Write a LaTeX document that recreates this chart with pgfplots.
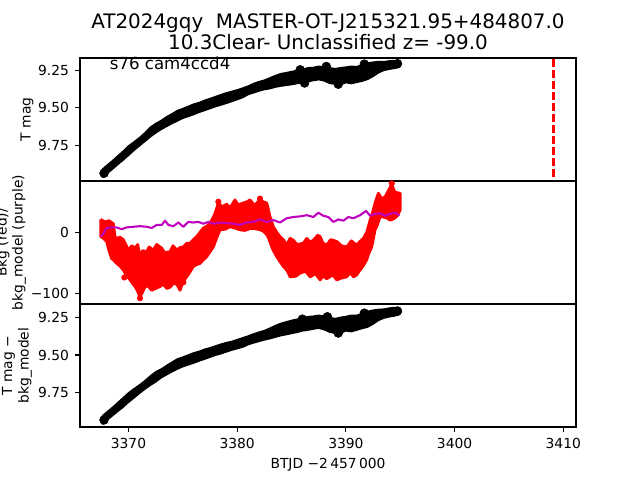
\documentclass[border=0pt]{standalone}
\usepackage{fontspec}
\setmainfont{DejaVu Sans}
\usepackage{pgfplots}
\pgfplotsset{compat=1.18}
\definecolor{mplm}{rgb}{0.75,0,0.75}
\pgfplotsset{
  panel/.style={
    scale only axis, width=357.1bp, height=88.56bp,
    xmin=3365.54, xmax=3411.17,
    axis line style={line width=0.8bp},
    tick style={line width=0.8bp, black},
    tick align=outside, major tick length=3.5bp,
    xtick pos=left, ytick pos=left,
    /pgf/number format/assume math mode=true,
    tick label style={font=\fontsize{10}{12}\selectfont},
    yticklabel style={xshift=-1bp},
    xticklabel style={yshift=-1bp},
    anchor=south west,
  }
}
\begin{document}
\begin{tikzpicture}
\useasboundingbox (0,0) rectangle (460.8bp,345.6bp);
% ---------------- top panel ----------------
\begin{axis}[panel, at={(57.6bp,215.28bp)},
  ymin=9.167, ymax=9.989, y dir=reverse,
  ytick={9.25,9.5,9.75}, yticklabels={9.25,9.50,9.75}, xtick=\empty]
\addplot[black, fill=black, line width=1bp, line join=round] coordinates {
(3367.6,9.910) (3368.0,9.885) (3368.5,9.855) (3369.0,9.822) (3369.5,9.790)
(3370.0,9.755) (3370.5,9.728) (3371.0,9.700) (3371.5,9.668) (3372.0,9.630)
(3372.5,9.605) (3373.0,9.585) (3373.5,9.560) (3374.0,9.540) (3374.5,9.518)
(3375.0,9.505) (3375.5,9.490) (3376.0,9.475) (3376.5,9.465) (3377.0,9.450)
(3377.5,9.438) (3378.0,9.425) (3378.5,9.412) (3379.0,9.400) (3379.5,9.390)
(3380.0,9.380) (3380.5,9.368) (3381.0,9.355) (3381.5,9.338) (3382.0,9.325)
(3382.5,9.315) (3383.0,9.300) (3383.5,9.285) (3384.0,9.272) (3384.5,9.265)
(3385.0,9.258) (3385.5,9.250) (3386.0,9.245) (3386.5,9.232) (3387.0,9.230)
(3387.5,9.222) (3388.0,9.228) (3388.5,9.232) (3389.0,9.238) (3389.5,9.232)
(3390.0,9.228) (3390.5,9.222) (3391.0,9.225) (3391.5,9.212) (3392.0,9.200)
(3392.5,9.195) (3393.0,9.190) (3393.5,9.192) (3394.0,9.186) (3394.5,9.184)
(3394.9,9.185)
(3394.9,9.228) (3394.5,9.236) (3394.0,9.242) (3393.5,9.250) (3393.0,9.266)
(3392.5,9.290) (3392.0,9.310) (3391.5,9.322) (3391.0,9.330) (3390.5,9.338)
(3390.0,9.332) (3389.5,9.345) (3389.0,9.342) (3388.5,9.336) (3388.0,9.320)
(3387.5,9.312) (3387.0,9.318) (3386.5,9.325) (3386.0,9.330) (3385.5,9.338)
(3385.0,9.345) (3384.5,9.350) (3384.0,9.355) (3383.5,9.362) (3383.0,9.372)
(3382.5,9.378) (3382.0,9.388) (3381.5,9.400) (3381.0,9.412) (3380.5,9.432)
(3380.0,9.445) (3379.5,9.458) (3379.0,9.470) (3378.5,9.482) (3378.0,9.492)
(3377.5,9.505) (3377.0,9.518) (3376.5,9.530) (3376.0,9.545) (3375.5,9.558)
(3375.0,9.570) (3374.5,9.588) (3374.0,9.605) (3373.5,9.625) (3373.0,9.645)
(3372.5,9.668) (3372.0,9.695) (3371.5,9.725) (3371.0,9.755) (3370.5,9.785)
(3370.0,9.818) (3369.5,9.850) (3369.0,9.880) (3368.5,9.912) (3368.0,9.940)
(3367.6,9.965) (3367.6,9.910)
};
\addplot[black, only marks, mark=*, mark size=3.2bp] coordinates {
(3367.75,9.937) (3394.75,9.205) (3385.8,9.246) (3388.2,9.224) (3389.3,9.342) (3391.7,9.208) (3386.2,9.334)};
\addplot[red, line width=1.5bp, dash pattern=on 5.55bp off 2.4bp] coordinates {(3409.1,9.1) (3409.1,10.1)};
\end{axis}
% ---------------- middle panel ----------------
\begin{axis}[panel, at={(57.6bp,126.72bp)},
  ymin=-117.5, ymax=84, ytick={-100,0}, yticklabels={−100,0}, xtick=\empty]
\addplot[red, fill=red, line width=2bp, line join=round] coordinates {
(3367.44,21) (3367.84,17) (3368.2,19) (3368.61,14) (3368.76,-7) (3368.91,-10)
(3369.2,-8) (3369.53,-12) (3369.99,-29) (3370.3,-22) (3370.6,-26) (3370.85,-20)
(3371.06,-40) (3371.3,-30) (3371.67,-32) (3371.9,-24) (3372.29,-29) (3372.6,-20)
(3373.06,-26) (3373.3,-33) (3373.82,-32) (3374.1,-22) (3374.44,-29) (3374.74,-25)
(3375.05,-24) (3375.36,-18) (3375.66,-18) (3375.97,-12) (3376.28,-7) (3376.58,0)
(3376.89,7) (3377.2,10) (3377.5,15) (3377.81,25) (3377.96,31) (3378.27,48)
(3378.6,42) (3379.04,46) (3379.34,40) (3379.8,53) (3380.1,45) (3380.57,48)
(3380.9,50) (3381.18,53) (3381.6,44) (3382.1,53) (3382.4,50) (3382.72,48)
(3383.02,26) (3383.33,9) (3383.64,0) (3383.94,-7) (3384.25,-12) (3384.56,-21)
(3384.87,-10) (3385.17,-13) (3385.5,-20) (3386.09,-18) (3386.4,-10) (3386.71,-16)
(3387.01,-13) (3387.4,-5) (3387.63,-7) (3387.9,-18) (3388.24,-21) (3388.6,-12)
(3389.16,-15) (3389.6,-22) (3390.08,-24) (3390.5,-14) (3390.99,-21) (3391.3,-15)
(3391.61,-10) (3391.92,0) (3392.23,20) (3392.5,35) (3392.69,48) (3392.99,64)
(3393.3,55) (3393.61,58) (3393.9,68) (3394.22,78) (3394.5,66) (3394.68,65)
(3394.99,64)
(3394.99,36) (3394.68,26) (3394.4,22) (3394.07,20) (3393.7,24) (3393.15,26)
(3392.9,12) (3392.69,4) (3392.38,-24) (3392.1,-35) (3391.92,-45) (3391.6,-55)
(3391.3,-62) (3391.0,-70) (3390.69,-73) (3390.4,-66) (3390.08,-73) (3389.6,-75)
(3389.16,-78) (3388.8,-70) (3388.24,-76) (3387.9,-72) (3387.63,-78) (3387.2,-68)
(3386.71,-73) (3386.3,-64) (3385.78,-67) (3385.4,-72) (3384.87,-73) (3384.56,-62)
(3384.25,-56) (3383.94,-48) (3383.64,-40) (3383.33,-30) (3383.18,-24) (3382.9,-10)
(3382.72,-4) (3382.4,2) (3382.1,4) (3381.6,6) (3381.18,6) (3380.7,3)
(3380.26,4) (3379.8,7) (3379.34,9) (3378.9,5) (3378.42,4) (3378.1,-10)
(3377.81,-24) (3377.5,-32) (3377.2,-40) (3376.9,-45) (3376.58,-51) (3376.28,-53)
(3375.97,-56) (3375.66,-65) (3375.36,-73) (3375.05,-80) (3374.74,-95) (3374.44,-85)
(3374.13,-84) (3373.82,-90) (3373.52,-92) (3373.2,-85) (3372.9,-89) (3372.5,-92)
(3372.13,-95) (3371.8,-88) (3371.52,-89) (3371.3,-98) (3371.06,-106) (3370.8,-95)
(3370.6,-89) (3370.3,-82) (3370.14,-78) (3369.8,-70) (3369.53,-62) (3369.2,-55)
(3368.91,-51) (3368.6,-45) (3368.45,-43) (3368.2,-30) (3367.99,-15) (3367.7,-10)
(3367.44,-7) (3367.44,21)
};
\addplot[red, only marks, mark=*, mark size=2bp] coordinates {(3369.62,-74) (3371.06,-108) (3378.27,50) (3382.1,55) (3394.22,80) (3375.05,-82)};
\addplot[mplm, line width=1.5bp, line join=round] coordinates {
(3367.44,-7) (3367.69,-2) (3367.99,7) (3368.45,8) (3368.91,8) (3369.37,5)
(3369.83,8) (3370.45,9) (3371.06,10) (3371.67,9) (3372.13,7) (3372.6,12)
(3373.06,12) (3373.36,19) (3373.67,12) (3374.13,10) (3374.59,16) (3375.05,9)
(3375.51,17) (3375.97,16) (3376.43,17) (3376.89,14) (3377.35,17) (3377.81,14)
(3378.42,16) (3379.04,15) (3379.65,14) (3380.26,12) (3380.88,16) (3381.49,17)
(3382.1,21) (3382.72,17) (3383.33,20) (3383.94,16) (3384.56,23) (3385.17,25)
(3385.78,26) (3386.4,28) (3387.01,25) (3387.47,32) (3387.93,27) (3388.39,25)
(3388.85,17) (3389.31,21) (3389.77,19) (3390.23,25) (3390.69,23) (3391.31,28)
(3391.86,35) (3392.23,27) (3392.69,30) (3393.15,31) (3393.61,27) (3394.07,30)
(3394.37,32) (3394.68,31) (3394.93,27)
};
\end{axis}
% ---------------- bottom panel ----------------
\begin{axis}[panel, at={(57.6bp,38.16bp)},
  ymin=9.161, ymax=9.979, y dir=reverse,
  ytick={9.25,9.5,9.75}, yticklabels={9.25,9.50,9.75},
  xtick={3370,3380,3390,3400,3410}, xticklabels={3370,3380,3390,3400,3410}]
\addplot[black, fill=black, line width=1bp, line join=round] coordinates {
(3367.6,9.905) (3368.0,9.880) (3368.5,9.850) (3369.0,9.818) (3369.5,9.785)
(3370.0,9.752) (3370.5,9.725) (3371.0,9.700) (3371.5,9.672) (3372.0,9.640)
(3372.5,9.612) (3373.0,9.594) (3373.5,9.570) (3374.0,9.548) (3374.5,9.526)
(3375.0,9.514) (3375.5,9.500) (3376.0,9.486) (3376.5,9.476) (3377.0,9.462)
(3377.5,9.452) (3378.0,9.440) (3378.5,9.428) (3379.0,9.418) (3379.5,9.410)
(3380.0,9.398) (3380.5,9.386) (3381.0,9.374) (3381.5,9.360) (3382.0,9.348)
(3382.5,9.338) (3383.0,9.322) (3383.5,9.305) (3384.0,9.290) (3384.5,9.280)
(3385.0,9.270) (3385.5,9.262) (3386.0,9.256) (3386.5,9.245) (3387.0,9.242)
(3387.5,9.236) (3388.0,9.242) (3388.5,9.250) (3389.0,9.258) (3389.5,9.250)
(3390.0,9.244) (3390.5,9.236) (3391.0,9.236) (3391.5,9.224) (3392.0,9.210)
(3392.5,9.202) (3393.0,9.197) (3393.5,9.195) (3394.0,9.188) (3394.5,9.184)
(3394.9,9.184)
(3394.9,9.232) (3394.5,9.240) (3394.0,9.246) (3393.5,9.255) (3393.0,9.270)
(3392.5,9.295) (3392.0,9.315) (3391.5,9.324) (3391.0,9.335) (3390.5,9.345)
(3390.0,9.340) (3389.5,9.355) (3389.0,9.356) (3388.5,9.348) (3388.0,9.332)
(3387.5,9.322) (3387.0,9.328) (3386.5,9.335) (3386.0,9.340) (3385.5,9.350)
(3385.0,9.357) (3384.5,9.365) (3384.0,9.372) (3383.5,9.382) (3383.0,9.392)
(3382.5,9.400) (3382.0,9.410) (3381.5,9.420) (3381.0,9.432) (3380.5,9.448)
(3380.0,9.458) (3379.5,9.468) (3379.0,9.480) (3378.5,9.492) (3378.0,9.502)
(3377.5,9.515) (3377.0,9.528) (3376.5,9.540) (3376.0,9.554) (3375.5,9.566)
(3375.0,9.578) (3374.5,9.594) (3374.0,9.612) (3373.5,9.632) (3373.0,9.652)
(3372.5,9.680) (3372.0,9.702) (3371.5,9.728) (3371.0,9.756) (3370.5,9.786)
(3370.0,9.815) (3369.5,9.848) (3369.0,9.876) (3368.5,9.906) (3368.0,9.935)
(3367.6,9.960) (3367.6,9.905)
};
\addplot[black, only marks, mark=*, mark size=3.2bp] coordinates {
(3367.75,9.932) (3394.75,9.208) (3386.0,9.262) (3388.3,9.246) (3389.3,9.354) (3391.7,9.222)};
\end{axis}
% ---------------- texts ----------------
\node[anchor=base, font=\fontsize{14.4}{17}\selectfont] at (236.15bp,325.4bp) {AT2024gqy\ \ MASTER-OT-J215321.95+484807.0};
\node[anchor=base, font=\fontsize{14.4}{17}\selectfont] at (236.15bp,309.6bp) {10.3Clear- Unclassified z= -99.0};
\node[anchor=base west, font=\fontsize{12}{14}\selectfont] at (75.6bp,295.2bp) {s76 cam4ccd4};
\node[rotate=90, font=\fontsize{10}{12}\selectfont] at (19.4bp,259.6bp) {T mag};
\node[rotate=90, align=center, font=\fontsize{10}{11.5}\selectfont] at (7.9bp,171bp) {Bkg (red)/\\bkg\_model (purple)};
\node[rotate=90, align=center, font=\fontsize{10}{12}\selectfont] at (12.2bp,82.4bp) {T mag −\\bkg\_model};
\node[anchor=base, font=\fontsize{10}{12}\selectfont] at (236.15bp,8.6bp) {BTJD −2\,457\,000};
\end{tikzpicture}
\end{document}
